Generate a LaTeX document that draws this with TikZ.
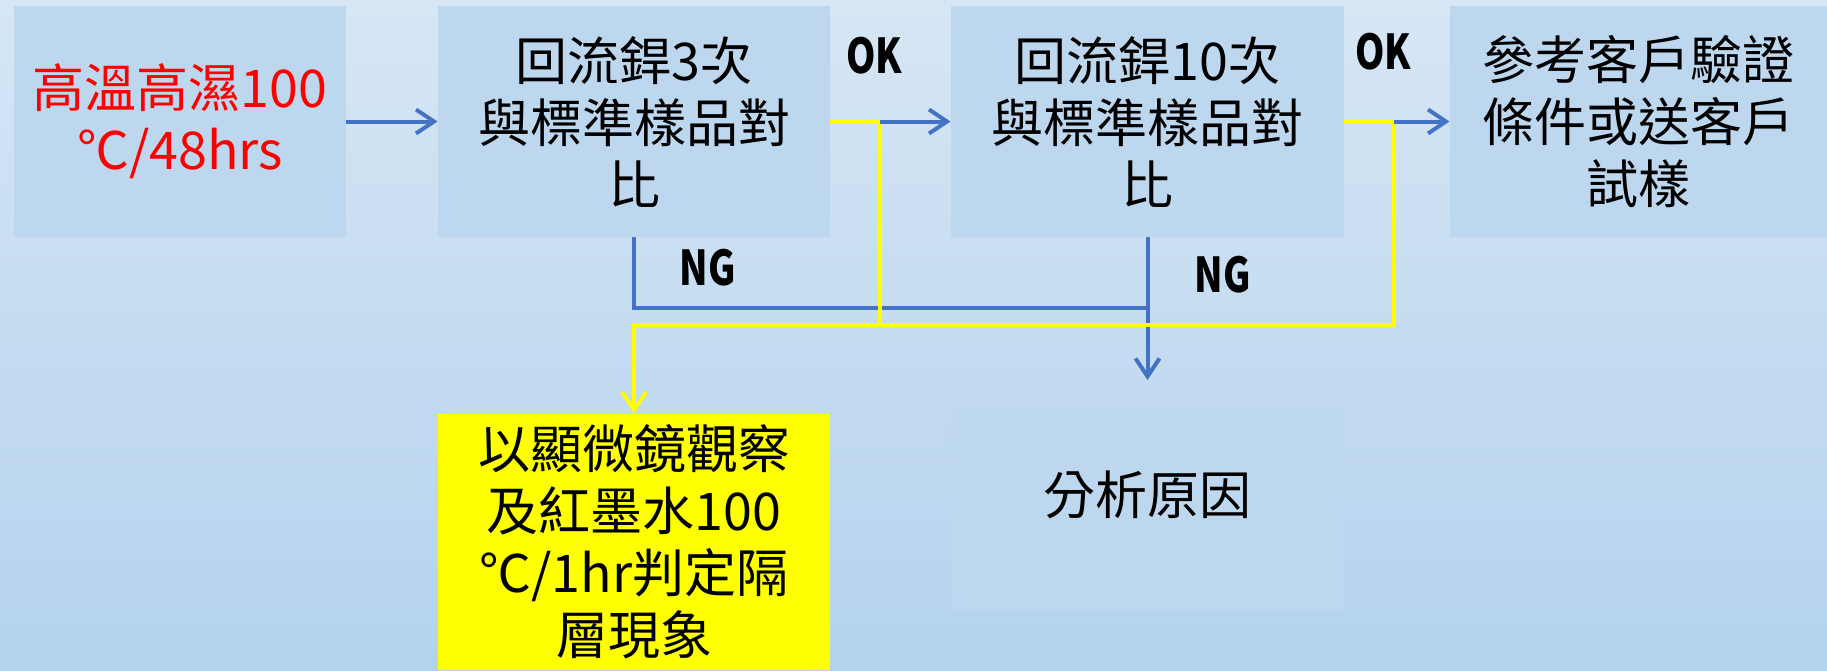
\documentclass[tikz,border=0pt]{standalone}
\usepackage{fontspec}
\setmainfont{Noto Sans CJK TC}
\usetikzlibrary{arrows.meta}
\definecolor{bgtop}{HTML}{D6E6F5}
\definecolor{bgbot}{HTML}{B4D2ED}
\definecolor{boxfill}{HTML}{BDD7EE}
\definecolor{lineblue}{HTML}{4472C4}
\definecolor{lineyellow}{HTML}{FFFF00}
\definecolor{txtred}{HTML}{FF0000}
\tikzset{
  stepbox/.style={fill=boxfill, draw=none, inner sep=0pt, align=center,
    font=\fontsize{26pt}{31pt}\selectfont},
  lbl/.style={font=\fontsize{24pt}{28pt}\selectfont\bfseries, inner sep=0pt, xscale=0.78},
  bline/.style={draw=lineblue, line width=2pt},
  barrow/.style={bline, -{Straight Barb[length=9pt,width=12pt,line width=2pt]}},
  yline/.style={draw=lineyellow, line width=2pt},
  yarrow/.style={yline, -{Straight Barb[length=9pt,width=12pt,line width=2pt]}}
}
\begin{document}
\begin{tikzpicture}[x=0.5pt,y=-0.5pt]
\useasboundingbox (0,0) rectangle (1827,670);
\shade[top color=bgtop, bottom color=bgbot] (0,0) rectangle (1827,670);

\node[stepbox, minimum width=166pt, minimum height=115.5pt, text=txtred] (b1) at (180,121.5) {高溫高濕100\\℃/48hrs};
\node[stepbox, minimum width=196pt, minimum height=115.5pt] (b2) at (634,121.5) {回流銲3次\\與標準樣品對\\比};
\node[stepbox, minimum width=196.5pt, minimum height=115.5pt] (b3) at (1147.5,121.5) {回流銲10次\\與標準樣品對\\比};
\node[stepbox, minimum width=188.5pt, minimum height=115.5pt] (b4) at (1638.5,121.5) {參考客戶驗證\\條件或送客戶\\試樣};
\node[stepbox, fill=lineyellow, minimum width=196pt, minimum height=128pt] (yb) at (634,542) {以顯微鏡觀察\\及紅墨水100\\℃/1hr判定隔\\層現象};
\node[stepbox, minimum width=196.5pt, minimum height=102pt, text depth=16pt] (an) at (1147.5,509) {分析原因};

\node[lbl] (ok1) at (874,56) {OK};
\node[lbl] (ok2) at (1383,52) {OK};
\node[lbl] (ng1) at (708,268) {NG};
\node[lbl] (ng2) at (1223,275) {NG};

\coordinate (j1) at (880,121.5);
\coordinate (j2) at (1394,121.5);
\coordinate (ylev) at (0,325);
\coordinate (blev) at (0,308);
\coordinate (tip) at (0,380);

\draw[barrow] (b1) -- (b2);
\draw[bline] (b2.south) |- (b3.south |- blev);
\draw[barrow] (b3.south) -- (b3.south |- tip);
\draw[yline] (b2.east) -- (j1) -- (j1 |- ylev);
\draw[yarrow] (b3.east) -- (j2) -- (j2 |- ylev) -| (yb.north);
\draw[barrow] (j1) -- (b3.west);
\draw[barrow] (j2) -- (b4.west);
\end{tikzpicture}
\end{document}
